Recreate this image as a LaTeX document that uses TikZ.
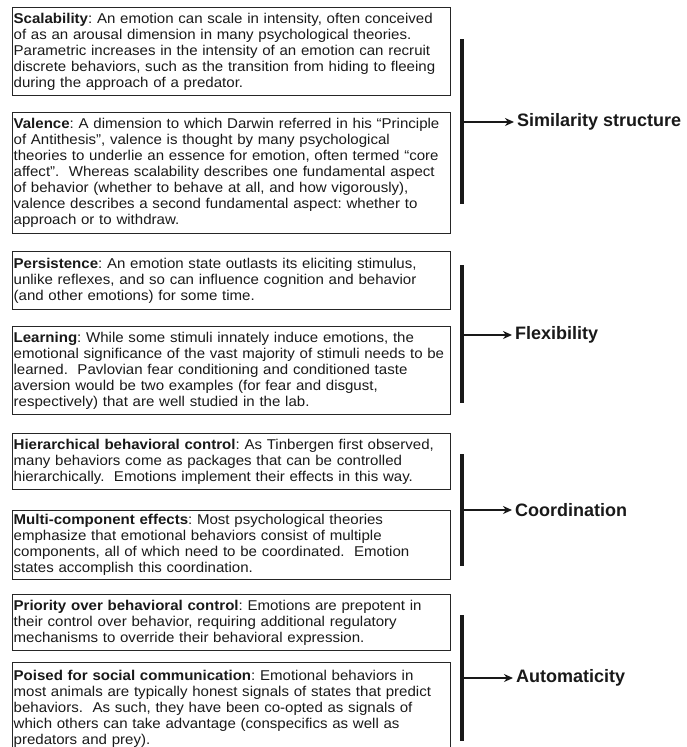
\documentclass[tikz,border=0pt]{standalone}
\usepackage{fontspec}
\setmainfont[FakeStretch=1.06]{Liberation Sans}
\newfontfamily\lblfont{Liberation Sans}
\usetikzlibrary{arrows.meta}
\frenchspacing
\tikzset{
  txtbox/.style={draw=black!85, line width=1.3pt, anchor=north west, text width=436pt,
    inner xsep=1pt, inner ysep=0pt, align=left, text=black!90,
    font=\fontsize{14.2}{16}\selectfont},
  bar/.style={line width=4pt, black!90},
  conn/.style={line width=2pt, black!90, -{Stealth[length=9pt,width=8pt]}, shorten >=3pt},
  lbl/.style={anchor=west, inner sep=0pt, font=\lblfont\bfseries\fontsize{18}{20}\selectfont, text=black!90}
}
\begin{document}
\begin{tikzpicture}[x=1pt,y=-1pt]
\useasboundingbox (0,0) rectangle (687,747);
\node[txtbox, minimum height=88pt] (b1) at (12,7) {\textbf{Scalability}: An emotion can scale in intensity, often conceived\\
of as an arousal dimension in many psychological theories.\\
Parametric increases in the intensity of an emotion can recruit\\
discrete behaviors, such as the transition from hiding to fleeing\\
during the approach of a predator.};
\node[txtbox, minimum height=121pt] (b2) at (12,112) {\textbf{Valence}: A dimension to which Darwin referred in his “Principle\\
of Antithesis”, valence is thought by many psychological\\
theories to underlie an essence for emotion, often termed “core\\
affect”.\ \ Whereas scalability describes one fundamental aspect\\
of behavior (whether to behave at all, and how vigorously),\\
valence describes a second fundamental aspect: whether to\\
approach or to withdraw.};
\node[txtbox, minimum height=58pt] (b3) at (12,251) {\textbf{Persistence}: An emotion state outlasts its eliciting stimulus,\\
unlike reflexes, and so can influence cognition and behavior\\
(and other emotions) for some time.};
\node[txtbox, minimum height=88pt] (b4) at (12,326) {\textbf{Learning}: While some stimuli innately induce emotions, the\\
emotional significance of the vast majority of stimuli needs to be\\
learned.\ \ Pavlovian fear conditioning and conditioned taste\\
aversion would be two examples (for fear and disgust,\\
respectively) that are well studied in the lab.};
\node[txtbox, minimum height=56pt] (b5) at (12,433) {\textbf{Hierarchical behavioral control}: As Tinbergen first observed,\\
many behaviors come as packages that can be controlled\\
hierarchically.\ \ Emotions implement their effects in this way.};
\node[txtbox, minimum height=69pt] (b6) at (12,510) {\textbf{Multi-component effects}: Most psychological theories\\
emphasize that emotional behaviors consist of multiple\\
components, all of which need to be coordinated.\ \ Emotion\\
states accomplish this coordination.};
\node[txtbox, minimum height=56pt] (b7) at (12,594) {\textbf{Priority over behavioral control}: Emotions are prepotent in\\
their control over behavior, requiring additional regulatory\\
mechanisms to override their behavioral expression.};
\node[txtbox, minimum height=92pt] (b8) at (12,662) {\textbf{Poised for social communication}: Emotional behaviors in\\
most animals are typically honest signals of states that predict\\
behaviors.\ \ As such, they have been co-opted as signals of\\
which others can take advantage (conspecifics as well as\\
predators and prey).};
% bars
\coordinate (t1) at (462,39);  \coordinate (e1) at (462,204); \coordinate (m1) at (462,122);
\coordinate (t2) at (462,265); \coordinate (e2) at (462,403); \coordinate (m2) at (462,335);
\coordinate (t3) at (462,454); \coordinate (e3) at (462,566); \coordinate (m3) at (462,510);
\coordinate (t4) at (462,615); \coordinate (e4) at (462,741); \coordinate (m4) at (462,678);
\draw[bar] (t1) -- (e1);
\draw[bar] (t2) -- (e2);
\draw[bar] (t3) -- (e3);
\draw[bar] (t4) -- (e4);
\node[lbl] (l1) at (517,122) {Similarity structure};
\node[lbl] (l2) at (515,335) {Flexibility};
\node[lbl] (l3) at (515,510) {Coordination};
\node[lbl] (l4) at (516,678) {Automaticity};
\draw[conn] (m1) -- (l1.west);
\draw[conn] (m2) -- (l2.west);
\draw[conn] (m3) -- (l3.west);
\draw[conn] (m4) -- (l4.west);
\end{tikzpicture}
\end{document}
